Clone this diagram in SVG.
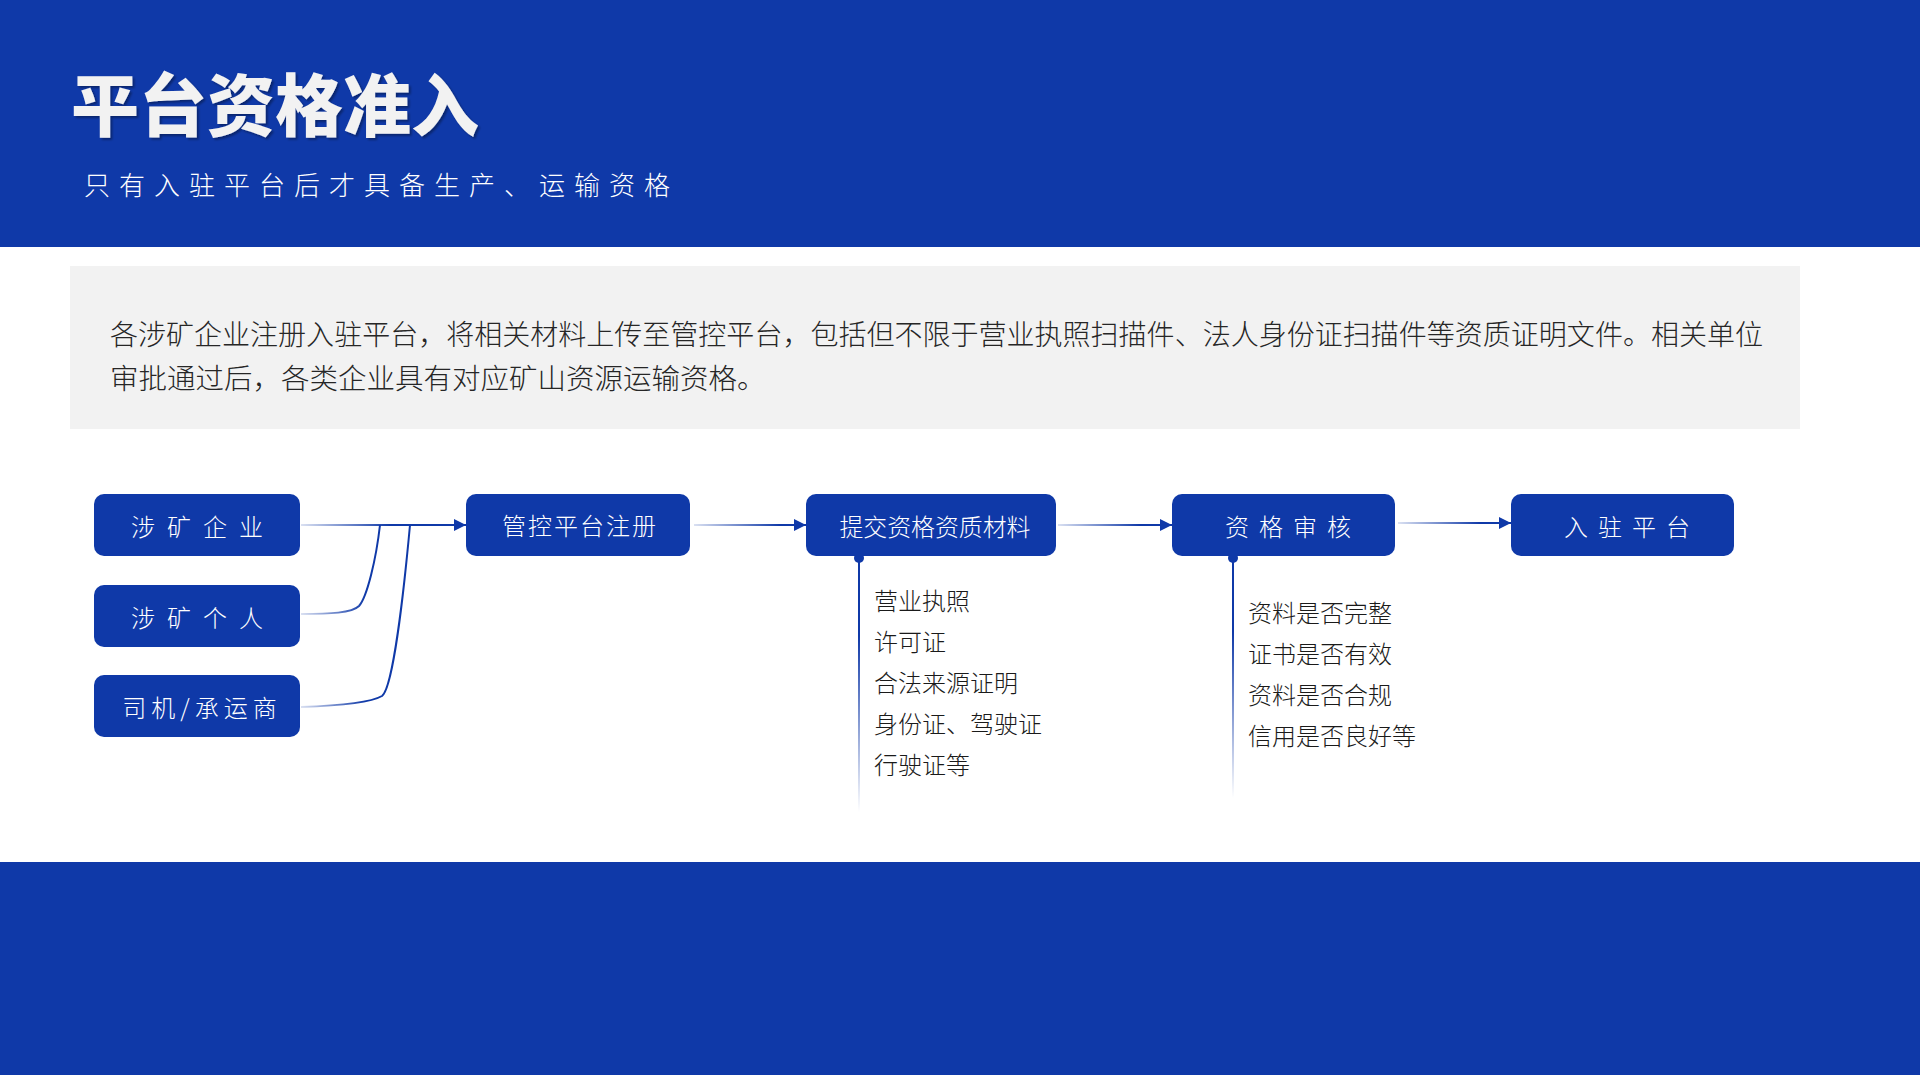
<svg xmlns="http://www.w3.org/2000/svg" width="1920" height="1075" viewBox="0 0 1920 1075">
<defs>
<style>
.node{fill:#0f39a8;}
.nt{fill:#ffffff;font-family:"Noto Sans CJK SC","Noto Sans",sans-serif;font-size:24px;font-weight:300;text-anchor:middle;}
.lst{fill:#1a1a1a;font-family:"Noto Sans CJK SC","Noto Sans",sans-serif;font-size:24px;font-weight:300;}
.para{fill:#262626;font-family:"Noto Sans CJK SC","Noto Sans",sans-serif;font-size:28.5px;font-weight:300;}
.ln{fill:none;stroke-width:2;}
</style>
<filter id="sh" x="-5%" y="-5%" width="110%" height="120%">
<feDropShadow dx="2" dy="2" stdDeviation="1" flood-color="#000" flood-opacity="0.35"/>
</filter>
<marker id="ah" markerWidth="12" markerHeight="12" refX="12" refY="6" orient="auto" markerUnits="userSpaceOnUse">
<path d="M0,0 L12,6 L0,12 Z" fill="#0f39a8"/>
</marker>
<linearGradient id="g1" gradientUnits="userSpaceOnUse" x1="301" y1="0" x2="390" y2="0"><stop offset="0" stop-color="#0f39a8" stop-opacity="0.15"/><stop offset="1" stop-color="#0f39a8"/></linearGradient>
<linearGradient id="g2" gradientUnits="userSpaceOnUse" x1="694" y1="0" x2="780" y2="0"><stop offset="0" stop-color="#0f39a8" stop-opacity="0.15"/><stop offset="1" stop-color="#0f39a8"/></linearGradient>
<linearGradient id="g3" gradientUnits="userSpaceOnUse" x1="1058" y1="0" x2="1140" y2="0"><stop offset="0" stop-color="#0f39a8" stop-opacity="0.15"/><stop offset="1" stop-color="#0f39a8"/></linearGradient>
<linearGradient id="g4" gradientUnits="userSpaceOnUse" x1="1398" y1="0" x2="1480" y2="0"><stop offset="0" stop-color="#0f39a8" stop-opacity="0.15"/><stop offset="1" stop-color="#0f39a8"/></linearGradient>
<linearGradient id="gc" gradientUnits="userSpaceOnUse" x1="301" y1="0" x2="365" y2="0"><stop offset="0" stop-color="#0f39a8" stop-opacity="0.15"/><stop offset="1" stop-color="#0f39a8"/></linearGradient>
<linearGradient id="gv1" gradientUnits="userSpaceOnUse" x1="0" y1="560" x2="0" y2="812"><stop offset="0.3" stop-color="#0f39a8"/><stop offset="1" stop-color="#0f39a8" stop-opacity="0"/></linearGradient>
<linearGradient id="gv2" gradientUnits="userSpaceOnUse" x1="0" y1="560" x2="0" y2="798"><stop offset="0.3" stop-color="#0f39a8"/><stop offset="1" stop-color="#0f39a8" stop-opacity="0"/></linearGradient>
</defs>
<rect x="0" y="0" width="1920" height="1075" fill="#ffffff"/>
<g id="header">
<rect x="0" y="0" width="1920" height="247" fill="#0f39a8"/>
<text x="71" y="131" font-family="'Noto Sans CJK SC',sans-serif" font-size="68" font-weight="900" fill="#f2f2f2" filter="url(#sh)">平台资格准入</text>
<text x="84" y="195" font-family="'Noto Sans CJK SC',sans-serif" font-size="26" font-weight="300" fill="#ffffff" letter-spacing="9">只有入驻平台后才具备生产、运输资格</text>
</g>
<g id="intro">
<rect x="70" y="266" width="1730" height="163" fill="#f2f2f2"/>
<text class="para" x="110" y="345" textLength="1653" lengthAdjust="spacingAndGlyphs">各涉矿企业注册入驻平台，将相关材料上传至管控平台，包括但不限于营业执照扫描件、法人身份证扫描件等资质证明文件。相关单位</text>
<text class="para" x="110" y="389">审批通过后，各类企业具有对应矿山资源运输资格。</text>
</g>
<g id="footer">
<rect x="0" y="862" width="1920" height="213" fill="#0f39a8"/>
</g>
<g id="connectors">
<path class="ln" d="M301,525 L466,525" stroke="url(#g1)" marker-end="url(#ah)"/>
<path class="ln" d="M301,614 C330,614 352,613 359,606 C367,597 376,560 380,525" stroke="url(#gc)"/>
<path class="ln" d="M301,707 C330,706 370,703 382,696 C393,688 404,590 410,525" stroke="url(#gc)"/>
<path class="ln" d="M694,525 L806,525" stroke="url(#g2)" marker-end="url(#ah)"/>
<path class="ln" d="M1058,525 L1172,525" stroke="url(#g3)" marker-end="url(#ah)"/>
<path class="ln" d="M1398,523 L1511,523" stroke="url(#g4)" marker-end="url(#ah)"/>
<circle cx="859" cy="558" r="5" fill="#0f39a8"/>
<path class="ln" d="M859,558 L859,812" stroke="url(#gv1)"/>
<circle cx="1233" cy="558" r="5" fill="#0f39a8"/>
<path class="ln" d="M1233,558 L1233,798" stroke="url(#gv2)"/>
</g>
<g id="n-enterprise">
<rect class="node" x="94" y="494" width="206" height="62" rx="10"/>
<text class="nt" x="203" y="536" letter-spacing="12">涉矿企业</text>
</g>
<g id="n-individual">
<rect class="node" x="94" y="585" width="206" height="62" rx="10"/>
<text class="nt" x="203" y="627" letter-spacing="12">涉矿个人</text>
</g>
<g id="n-driver">
<rect class="node" x="94" y="675" width="206" height="62" rx="10"/>
<text class="nt" x="202" y="717" letter-spacing="5">司机/承运商</text>
</g>
<g id="n-register">
<rect class="node" x="466" y="494" width="224" height="62" rx="10"/>
<text class="nt" x="580" y="535" font-size="26" letter-spacing="2">管控平台注册</text>
</g>
<g id="n-submit">
<rect class="node" x="806" y="494" width="250" height="62" rx="10"/>
<text class="nt" x="935" y="536" font-size="25" textLength="191" lengthAdjust="spacingAndGlyphs">提交资格资质材料</text>
<text class="lst" x="874" y="610">营业执照</text>
<text class="lst" x="874" y="651">许可证</text>
<text class="lst" x="874" y="692">合法来源证明</text>
<text class="lst" x="874" y="733">身份证、驾驶证</text>
<text class="lst" x="874" y="774">行驶证等</text>
</g>
<g id="n-review">
<rect class="node" x="1172" y="494" width="223" height="62" rx="10"/>
<text class="nt" x="1293" y="536" font-size="25" letter-spacing="10">资格审核</text>
<text class="lst" x="1248" y="622">资料是否完整</text>
<text class="lst" x="1248" y="663">证书是否有效</text>
<text class="lst" x="1248" y="704">资料是否合规</text>
<text class="lst" x="1248" y="745">信用是否良好等</text>
</g>
<g id="n-join">
<rect class="node" x="1511" y="494" width="223" height="62" rx="10"/>
<text class="nt" x="1632" y="536" font-size="25" letter-spacing="10">入驻平台</text>
</g>
</svg>
